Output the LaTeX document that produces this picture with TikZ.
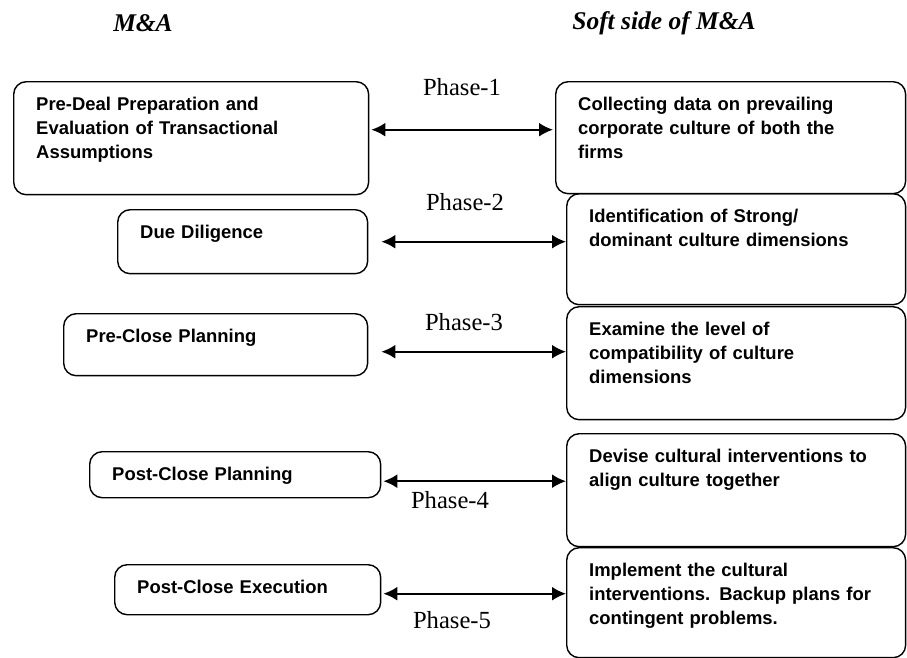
\documentclass[tikz,border=0pt]{standalone}
\usepackage{fontspec}
\setmainfont{Liberation Serif}
\newfontfamily\cellfam{Liberation Sans}
\usetikzlibrary{arrows.meta}
\newcommand\cellfont{\cellfam\bfseries\fontsize{10.5}{13.6}\selectfont}
\newcommand\phasefont{\fontsize{14}{16}\selectfont}
\newcommand\headfont{\bfseries\itshape\fontsize{14.5}{17}\selectfont}
\tikzset{
    cell/.style={draw,rounded corners=0.25cm,line width=0.8pt,anchor=north west,align=left,
        inner xsep=0.45cm,inner ysep=0.2cm,text height=0.38cm,font=\cellfont},
    phase/.style={font=\phasefont,inner sep=0pt},
    head/.style={font=\headfont,inner sep=0pt},
    link/.style={{Latex[length=2.8mm,width=2.8mm]}-{Latex[length=2.8mm,width=2.8mm]},line width=1.2pt}
}

\begin{document}
\begin{tikzpicture}[x=0.02cm,y=-0.02cm]
        \useasboundingbox (0,0) rectangle (907,657);
        % column heads
        \node [head] (mna) at (143,23) {M\&A};
        \node [head] (soft) at (664,23) {Soft side of M\&A};
        % left column
        \node [cell,text width=6.2cm,text depth=1.48cm] (l1) at (13,81)
            {Pre-Deal Preparation and\\Evaluation of Transactional\\Assumptions};
        \node [cell,text width=4.1cm,text depth=0.5cm] (l2) at (117,209) {Due Diligence};
        \node [cell,text width=5.18cm,text depth=0.46cm] (l3) at (63,313) {Pre-Close Planning};
        \node [cell,text width=4.92cm,text depth=0.14cm] (l4) at (89,451) {Post-Close Planning};
        \node [cell,text width=4.42cm,text depth=0.22cm] (l5) at (114,564) {Post-Close Execution};
        % right column
        \node [cell,text width=6.1cm,text depth=1.46cm] (r1) at (555,81)
            {Collecting data on prevailing\\corporate culture of both the\\firms};
        \node [cell,text width=5.88cm,text depth=1.44cm] (r2) at (566,193)
            {Identification of Strong/\\dominant culture dimensions};
        \node [cell,text width=5.88cm,text depth=1.48cm] (r3) at (566,306)
            {Examine the level of\\compatibility of culture\\dimensions};
        \node [cell,text width=5.88cm,text depth=1.48cm] (r4) at (566,433)
            {Devise cultural interventions to\\align culture together};
        \node [cell,text width=5.88cm,text depth=1.42cm] (r5) at (566,547)
            {Implement the cultural\\interventions. Backup plans for\\contingent problems.};
        % phases
        \node [phase] (p1) at (462,87) {Phase-1};
        \node [phase] (p2) at (465,202) {Phase-2};
        \node [phase] (p3) at (464,322) {Phase-3};
        \node [phase] (p4) at (450,500) {Phase-4};
        \node [phase] (p5) at (452,620) {Phase-5};
        % links
        \draw [link,shorten <=0.04cm,shorten >=0.04cm] ([yshift=0.17cm]l1.east) -- ([yshift=0.17cm]l1.east -| r1.west);
        \draw [link,shorten <=0.26cm] (l2.east) -- (l2.east -| r2.west);
        \draw [link,shorten <=0.26cm] ([yshift=-0.14cm]l3.east) -- ([yshift=-0.14cm]l3.east -| r3.west);
        \draw [link,shorten <=0.04cm] ([yshift=-0.13cm]l4.east) -- ([yshift=-0.13cm]l4.east -| r4.west);
        \draw [link,shorten <=0.04cm] ([yshift=-0.08cm]l5.east) -- ([yshift=-0.08cm]l5.east -| r5.west);
    \end{tikzpicture}
\end{document}
